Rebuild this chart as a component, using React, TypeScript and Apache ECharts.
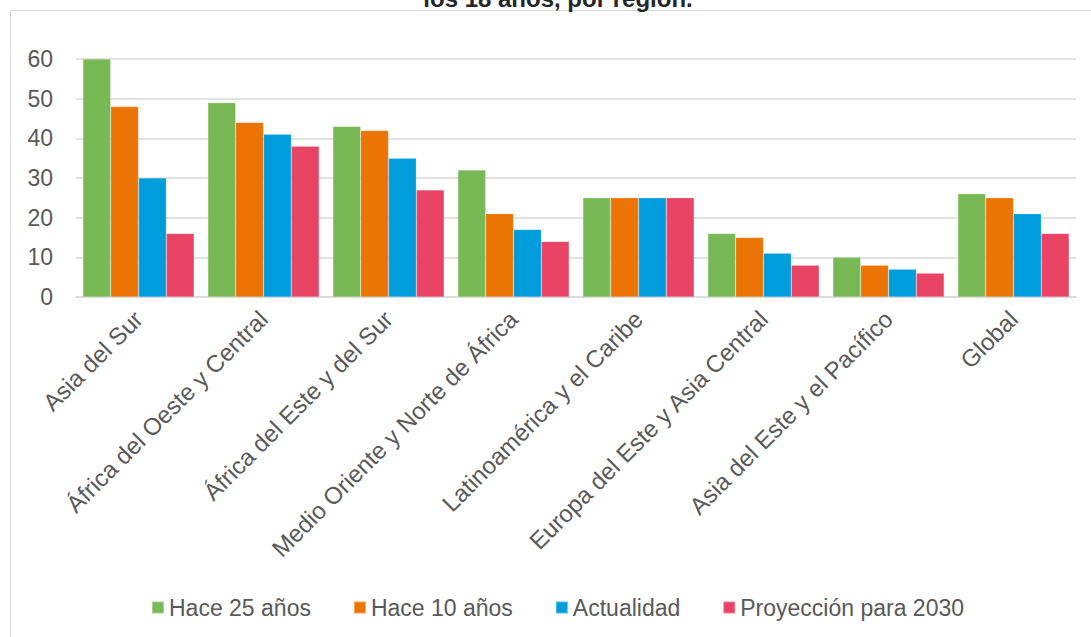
import React, { useEffect, useRef } from "react";
import * as echarts from "echarts";

// Regions shown on the category axis
const regions = [
  "Asia del Sur",
  "África del Oeste y Central",
  "África del Este y del Sur",
  "Medio Oriente y Norte de África",
  "Latinoamérica y el Caribe",
  "Europa del Este y Asia Central",
  "Asia del Este y el Pacífico",
  "Global",
];

const seriesNames = ["Hace 25 años", "Hace 10 años", "Actualidad", "Proyección para 2030"];

// Percent values per region for each period
const hace25 = [60, 49, 43, 32, 25, 16, 10, 26];
const hace10 = [48, 44, 42, 21, 25, 15, 8, 25];
const actualidad = [30, 41, 35, 17, 25, 11, 7, 21];
const proyeccion2030 = [16, 38, 27, 14, 25, 8, 6, 16];

const yTicks = [0, 10, 20, 30, 40, 50, 60];

const colors = ["#78b955", "#ec7404", "#009ddd", "#e84363"];

const FONT = "'Liberation Sans', Arial, sans-serif";

export default function App() {
  const ref = useRef<HTMLDivElement>(null);

  useEffect(() => {
    if (!ref.current) return;
    const chart = echarts.init(ref.current, undefined, { renderer: "svg" });
    const values = [hace25, hace10, actualidad, proyeccion2030];

    chart.setOption({
      animation: false,
      backgroundColor: "#ffffff",
      textStyle: { fontFamily: FONT },
      graphic: [
        {
          type: "rect",
          z: -10,
          silent: true,
          shape: { x: 10.5, y: 10.5, width: 1200, height: 1000 },
          style: { fill: "none", stroke: "#d9d9d9", lineWidth: 1 },
        },
        {
          type: "text",
          x: 558,
          y: 10,
          silent: true,
          style: {
            text: "los 18 años, por región.",
            font: `bold 24px ${FONT}`,
            fill: "#262626",
            align: "center",
            verticalAlign: "bottom",
          },
        },
      ],
      grid: { left: 76, right: 15, top: 59, bottom: 340, containLabel: false },
      legend: {
        left: 146,
        top: 591,
        itemWidth: 12,
        itemHeight: 12,
        itemGap: 42,
        icon: "rect",
        textStyle: { fontSize: 23, color: "#595959", fontFamily: FONT },
        data: seriesNames,
      },
      xAxis: {
        type: "category",
        data: regions,
        axisLine: { lineStyle: { color: "#d9d9d9", width: 1.5 } },
        axisTick: { show: false },
        axisLabel: {
          rotate: 45,
          interval: 0,
          margin: 18,
          fontSize: 24,
          color: "#595959",
          fontFamily: FONT,
        },
      },
      yAxis: {
        type: "value",
        min: yTicks[0],
        max: yTicks[yTicks.length - 1],
        interval: 10,
        axisLine: { show: false },
        axisTick: { show: false },
        splitLine: { lineStyle: { color: "#d9d9d9", width: 1.5 } },
        axisLabel: { fontSize: 23, color: "#595959", margin: 23, fontFamily: FONT },
      },
      series: seriesNames.map((name, i) => ({
        name,
        type: "bar",
        data: values[i],
        barGap: "0%",
        barCategoryGap: "11%",
        itemStyle: { color: colors[i], borderColor: "rgba(255,255,255,0.35)", borderWidth: 0.5 },
      })),
    });

    return () => chart.dispose();
  }, []);

  return (
    <div
      ref={ref}
      style={{ position: "fixed", left: 0, top: 0, width: 1091, height: 637 }}
    />
  );
}
